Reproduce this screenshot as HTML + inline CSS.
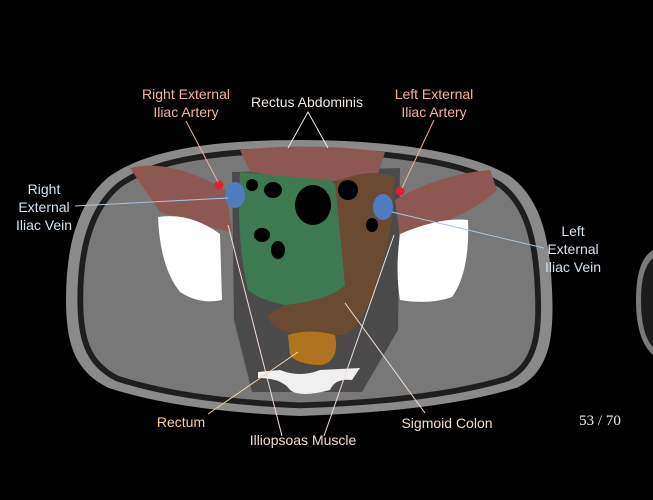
<!DOCTYPE html>
<html><head><style>
body{margin:0;background:#000;width:653px;height:500px;overflow:hidden}
svg{display:block}
text{font-family:"Liberation Sans",sans-serif;font-size:14px}
</style></head><body>
<svg width="653" height="500" viewBox="0 0 653 500">
<defs>
<path id="b" d="M300,146 C220,146 150,154 112,182 C82,207 72,250 72,300 C72,338 78,366 110,382 C170,402 250,408 300,410 C360,408 450,402 515,382 C546,367 548,330 546,290 C544,242 536,204 508,182 C468,156 380,146 300,146Z"/>
</defs>
<!-- right edge partial body -->
<path d="M653,250 Q636,260 636,300 Q636,340 653,355 Z" fill="#7a7a7a"/>
<path d="M653,258 Q641,268 641,300 Q641,335 653,347 Z" fill="#1c1c1c"/>
<!-- body -->
<use href="#b" fill="#787878" stroke="#8a8a8a" stroke-width="12"/>
<use href="#b" fill="none" stroke="#1e1e1e" stroke-width="6" transform="translate(309,278) scale(0.965) translate(-309,-278)"/>
<!-- inner pelvis darker region -->
<path d="M232,172 L400,168 L398,330 L362,392 L252,392 L234,320 Z" fill="#4a4a4a"/>
<!-- muscles red -->
<path d="M130,168 Q170,158 226,190 L232,232 Q210,228 160,212 Z" fill="#8e5852"/>
<path d="M240,150 Q310,142 385,152 L378,174 Q340,184 305,180 L250,172 Z" fill="#8e5852"/>
<path d="M395,200 Q440,174 490,170 L497,190 Q470,217 400,237 Z" fill="#8e5852"/>
<!-- bones -->
<path d="M158,217 Q190,212 220,234 L222,300 Q200,305 180,292 Q160,267 158,217 Z" fill="#fff"/>
<path d="M400,234 Q440,217 468,220 Q470,272 452,297 Q430,305 400,300 Q395,270 400,234 Z" fill="#fff"/>
<!-- green -->
<path d="M240,172 Q290,177 330,180 L345,192 L345,290 Q320,305 285,305 Q260,300 248,290 Q236,240 240,172 Z" fill="#3d7a52"/>
<ellipse cx="313" cy="205" rx="18" ry="20" fill="#000"/>
<ellipse cx="273" cy="190" rx="9" ry="8" fill="#000"/>
<ellipse cx="262" cy="235" rx="8" ry="7" fill="#000"/>
<ellipse cx="278" cy="250" rx="7" ry="9" fill="#000"/>
<ellipse cx="252" cy="185" rx="6" ry="6" fill="#000"/>
<!-- sigmoid -->
<path d="M335,182 Q370,167 395,177 L392,220 Q385,260 370,300 Q360,325 345,335 L300,335 Q270,330 268,315 L285,305 Q330,300 345,285 Z" fill="#6a4a30"/>
<ellipse cx="348" cy="190" rx="10" ry="10" fill="#000"/>
<ellipse cx="372" cy="225" rx="6" ry="7" fill="#000"/>
<!-- rectum -->
<path d="M288,335 Q310,328 335,335 Q340,360 322,365 Q298,365 290,355 Z" fill="#b0741f"/>
<!-- sacrum -->
<path d="M258,372 L280,370 Q300,378 320,370 L360,368 L352,380 Q335,378 330,390 Q300,398 290,390 Q282,378 258,378 Z" fill="#f0f0f0"/>
<!-- vessels -->
<ellipse cx="235" cy="195" rx="10" ry="13" fill="#4f7bc0"/>
<ellipse cx="383" cy="207" rx="10" ry="13" fill="#4f7bc0"/>
<circle cx="219" cy="185" r="4.5" fill="#e02030"/>
<circle cx="400" cy="191" r="4.5" fill="#e02030"/>
<!-- leader lines -->
<g stroke-width="1" fill="none">
<line x1="186" y1="121" x2="218" y2="182" stroke="#f0b0a0"/>
<line x1="434" y1="120" x2="402" y2="188" stroke="#f0b0a0"/>
<polyline points="288,148 308,112 328,148" stroke="#eee"/>
<line x1="75" y1="206" x2="228" y2="198" stroke="#a8c4e0"/>
<line x1="392" y1="212" x2="544" y2="248" stroke="#a8c4e0"/>
<line x1="208" y1="414" x2="298" y2="352" stroke="#f5d0a0"/>
<line x1="228" y1="225" x2="282" y2="436" stroke="#f2dcd0"/>
<line x1="394" y1="235" x2="324" y2="436" stroke="#f2dcd0"/>
<line x1="425" y1="413" x2="345" y2="303" stroke="#f2dcd0"/>
</g>
<!-- labels -->
<g text-anchor="middle">
<text x="186" y="99" fill="#f0b4a4">Right External</text>
<text x="186" y="117" fill="#f0b4a4">Iliac Artery</text>
<text x="434" y="99" fill="#f0b4a4">Left External</text>
<text x="434" y="117" fill="#f0b4a4">Iliac Artery</text>
<text x="307" y="107" fill="#f0eae4">Rectus Abdominis</text>
<text x="44" y="194" fill="#d4e2f0">Right</text>
<text x="44" y="212" fill="#d4e2f0">External</text>
<text x="44" y="230" fill="#d4e2f0">Iliac Vein</text>
<text x="573" y="236" fill="#d4e2f0">Left</text>
<text x="573" y="254" fill="#d4e2f0">External</text>
<text x="573" y="272" fill="#d4e2f0">Iliac Vein</text>
<text x="181" y="427" fill="#f5cf9a">Rectum</text>
<text x="303" y="445" fill="#f2dcd0">Illiopsoas Muscle</text>
<text x="447" y="428" fill="#f2dcd0">Sigmoid Colon</text>
</g>
<text x="600" y="425" text-anchor="middle" fill="#eee" style="font-family:'Liberation Serif',serif;font-size:15px">53 / 70</text>
</svg>
</body></html>
